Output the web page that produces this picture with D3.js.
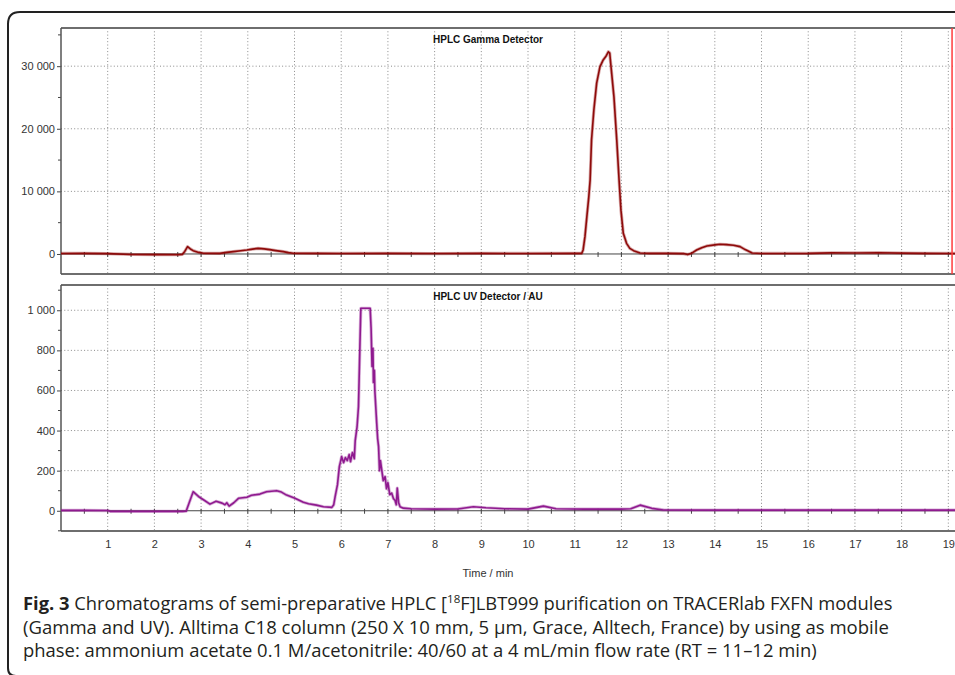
<!DOCTYPE html>
<html>
<head>
<meta charset="utf-8">
<script src="https://cdn.jsdelivr.net/npm/d3@7"></script>
<style>
  body { margin: 0; background: #fff; }
  svg { display: block; }
</style>
</head>
<body>
<div class="container"></div>
<script>
const width = 955;
const height = 675;

// retention time (min) / counts
const gammaTime = [0, 0.5, 1.0, 1.5, 2.0, 2.5, 2.6, 2.65, 2.71, 2.77, 2.83, 2.95, 3.05, 3.4, 3.55, 3.69, 3.85, 3.98, 4.1, 4.22, 4.35, 4.47, 4.6, 4.76, 4.87, 4.97, 5.5, 6, 7, 8, 9, 10, 11, 11.15, 11.18, 11.22, 11.26, 11.3, 11.33, 11.36, 11.41, 11.47, 11.54, 11.61, 11.67, 11.72, 11.75, 11.77, 11.84, 11.9, 11.95, 11.99, 12.04, 12.11, 12.18, 12.26, 12.4, 12.6, 13.0, 13.33, 13.42, 13.5, 13.61, 13.72, 13.83, 14.0, 14.11, 14.25, 14.4, 14.54, 14.65, 14.8, 15, 16, 16.5, 17, 17.5, 18, 18.5, 19.25];
const gammaValue = [80, 90, 60, -80, -100, -120, -60, 400, 1170, 800, 530, 250, 110, 100, 250, 370, 520, 640, 780, 900, 820, 690, 540, 370, 220, 110, 90, 80, 90, 70, 90, 80, 90, 100, 640, 2800, 5960, 9000, 11800, 18200, 23000, 27300, 29900, 31000, 31600, 32300, 32100, 30500, 25100, 18200, 11800, 7000, 3300, 1700, 900, 530, 150, 90, 90, 60, -100, 100, 640, 1000, 1280, 1450, 1550, 1500, 1390, 1170, 700, 150, 80, 90, 180, 160, 200, 140, 90, 80];

// retention time (min) / AU
const uvTime = [0, 0.5, 1.0, 1.05, 2.0, 2.6, 2.68, 2.83, 2.95, 3.05, 3.19, 3.32, 3.45, 3.51, 3.55, 3.6, 3.7, 3.8, 3.98, 4.08, 4.26, 4.4, 4.62, 4.72, 4.83, 5.01, 5.19, 5.3, 5.47, 5.62, 5.8, 5.84, 5.87, 5.92, 5.96, 6.01, 6.05, 6.09, 6.13, 6.17, 6.2, 6.24, 6.28, 6.3, 6.34, 6.37, 6.4, 6.42, 6.62, 6.64, 6.66, 6.68, 6.69, 6.71, 6.72, 6.76, 6.78, 6.8, 6.82, 6.84, 6.87, 6.9, 6.94, 6.97, 7.0, 7.04, 7.08, 7.12, 7.15, 7.18, 7.2, 7.23, 7.26, 7.33, 7.5, 8, 8.5, 8.83, 9.1, 9.5, 10, 10.33, 10.6, 11.2, 12, 12.2, 12.4, 12.65, 12.9, 14, 16, 19.25];
const uvValue = [2, 2, 1, -3, -3, -3, -2, 95, 70, 55, 33, 47, 38, 30, 40, 23, 40, 62, 67, 77, 83, 95, 100, 93, 78, 62, 42, 35, 28, 20, 17, 30, 70, 130, 220, 270, 240, 265, 250, 280, 245, 290, 260, 350, 420, 520, 820, 1010, 1010, 910, 720, 810, 640, 700, 600, 437, 360, 320, 200, 250, 200, 150, 170, 110, 140, 80, 88, 60, 53, 30, 113, 40, 20, 13, 10, 8, 9, 20, 15, 10, 8, 23, 10, 8, 8, 10, 28, 12, 4, 3, 3, 3];

const timeTicks = d3.range(1, 20);
const gammaTicks = [0, 10000, 20000, 30000];
const gammaMinor = [5000, 15000, 25000, 35000];
const uvTicks = [0, 200, 400, 600, 800, 1000];
const uvMinor = [-100, 100, 300, 500, 700, 900, 1100];
const cursorTime = 19.08;

const captionLines = [
    [{t: "Fig. 3", b: true}, {t: " Chromatograms of semi-preparative HPLC ["}, {t: "18", sup: true}, {t: "F]LBT999 purification on TRACERlab FXFN modules"}],
    [{t: "(Gamma and UV). Alltima C18 column (250 X 10 mm, 5 µm, Grace, Alltech, France) by using as mobile"}],
    [{t: "phase: ammonium acetate 0.1 M/acetonitrile: 40/60 at a 4 mL/min flow rate (RT = 11–12 min)"}]
];
const captionEnds = [893, 890, 817];

const svg = d3.select(".container")
    .append("svg")
    .attr("width", width)
    .attr("height", height);

// outer rounded frame
svg.append("path")
    .attr("d", "M960,12 L20,12 Q8,12 8,24 L8,668 Q8,676 16,676")
    .attr("fill", "none")
    .attr("stroke", "#222")
    .attr("stroke-width", 2);

const xScale = d3.scaleLinear().domain([0, 19.25]).range([61, 960]);

const fmt = d => d3.format(",")(d).replace(/,/g, " ");

function drawPanel(top, bottom, domain, ticks, minor, times, values, color, title) {
    const yScale = d3.scaleLinear().domain(domain).range([bottom, top]);
    const g = svg.append("g");

    // dotted grid
    g.selectAll(".vgrid")
        .data(timeTicks)
        .enter()
        .append("line")
        .attr("x1", d => xScale(d)).attr("x2", d => xScale(d))
        .attr("y1", top).attr("y2", bottom)
        .attr("stroke", "#8a8a8a")
        .attr("stroke-dasharray", "1,2.3");

    g.selectAll(".hgrid")
        .data(ticks.filter(d => d != 0))
        .enter()
        .append("line")
        .attr("x1", 61).attr("x2", 960)
        .attr("y1", d => yScale(d)).attr("y2", d => yScale(d))
        .attr("stroke", "#8a8a8a")
        .attr("stroke-dasharray", "1,2.3");

    // zero line with half-minute ticks
    const y0 = yScale(0);
    g.append("line")
        .attr("x1", 61).attr("x2", 960)
        .attr("y1", y0).attr("y2", y0)
        .attr("stroke", "#444");
    g.selectAll(".ztick")
        .data(d3.range(0.5, 19.5, 0.5))
        .enter()
        .append("line")
        .attr("x1", d => xScale(d)).attr("x2", d => xScale(d))
        .attr("y1", y0 - 2).attr("y2", y0 + 3)
        .attr("stroke", "#444");

    // box
    g.append("line").attr("x1", 61).attr("x2", 960).attr("y1", top).attr("y2", top)
        .attr("stroke", "#6e6e6e").attr("stroke-width", 2);
    g.append("line").attr("x1", 61).attr("x2", 960).attr("y1", bottom).attr("y2", bottom)
        .attr("stroke", "#6e6e6e").attr("stroke-width", 2);

    // y axis
    const ax = g.append("g")
        .attr("transform", "translate(61,0)")
        .call(d3.axisLeft(yScale).tickValues(ticks).tickFormat(fmt).tickSize(4).tickPadding(2).tickSizeOuter(0));
    ax.select(".domain").remove();
    ax.selectAll("line").attr("stroke", "#444");
    ax.selectAll("text")
        .attr("font-family", "Liberation Sans, Arial, sans-serif")
        .attr("font-size", 11)
        .attr("fill", "#333");
    g.selectAll(".minor")
        .data(minor)
        .enter()
        .append("line")
        .attr("x1", 58).attr("x2", 61)
        .attr("y1", d => yScale(d)).attr("y2", d => yScale(d))
        .attr("stroke", "#444");
    g.append("line").attr("x1", 61).attr("x2", 61).attr("y1", top).attr("y2", bottom)
        .attr("stroke", "#555").attr("stroke-width", 1.5);

    // trace
    const pts = times.map((t, i) => [t, values[i]]);
    const line = d3.line().x(d => xScale(d[0])).y(d => yScale(d[1]));
    g.append("path")
        .datum(pts)
        .attr("d", line)
        .attr("fill", "none")
        .attr("stroke", color)
        .attr("stroke-opacity", 0.35)
        .attr("stroke-width", 3.2)
        .attr("stroke-linejoin", "round");
    g.append("path")
        .datum(pts)
        .attr("d", line)
        .attr("fill", "none")
        .attr("stroke", color)
        .attr("stroke-width", 1.6)
        .attr("stroke-linejoin", "round");

    g.append("text")
        .attr("x", 488)
        .attr("y", top + 15)
        .attr("text-anchor", "middle")
        .attr("font-family", "Liberation Sans, Arial, sans-serif")
        .attr("font-weight", "bold")
        .attr("font-size", 10)
        .attr("fill", "#111")
        .text(title);

    return yScale;
}

drawPanel(28, 274, [-3200, 36100], gammaTicks, gammaMinor, gammaTime, gammaValue, "#8e0a0a", "HPLC Gamma Detector");
drawPanel(285, 531, [-101, 1126], uvTicks, uvMinor, uvTime, uvValue, "#8f1a8f", "HPLC UV Detector / AU");

// cursor line in the gamma panel
svg.append("line")
    .attr("x1", xScale(cursorTime)).attr("x2", xScale(cursorTime))
    .attr("y1", 28).attr("y2", 274)
    .attr("stroke", "#ff3b3b")
    .attr("stroke-width", 1.5);

// time axis labels
const xa = svg.append("g")
    .attr("transform", "translate(0,531)")
    .call(d3.axisBottom(xScale).tickValues(timeTicks).tickSize(0).tickPadding(9));
xa.select(".domain").remove();
xa.selectAll("text")
    .attr("font-family", "Liberation Sans, Arial, sans-serif")
    .attr("font-size", 11)
    .attr("fill", "#333");

svg.append("text")
    .attr("x", 488)
    .attr("y", 577)
    .attr("text-anchor", "middle")
    .attr("font-family", "Liberation Sans, Arial, sans-serif")
    .attr("font-size", 11)
    .attr("fill", "#333")
    .text("Time / min");

// caption, squeezed to the width of the original lines
captionLines.forEach((parts, i) => {
    const txt = svg.append("text")
        .attr("x", 0)
        .attr("y", 0)
        .attr("font-family", "Open Sans, Noto Sans, sans-serif")
        .attr("font-size", 17.5)
        .attr("fill", "#231f20");
    parts.forEach(p => {
        const s = txt.append("tspan").text(p.t);
        if (p.b) s.attr("font-weight", "bold");
        if (p.sup) s.attr("font-size", 11).attr("baseline-shift", "super");
    });
    const w = txt.node().getComputedTextLength();
    const sx = (captionEnds[i] - 23) / w;
    txt.attr("transform", `translate(23,${610 + i * 23.5}) scale(${sx},1)`);
});
</script>
</body>
</html>
